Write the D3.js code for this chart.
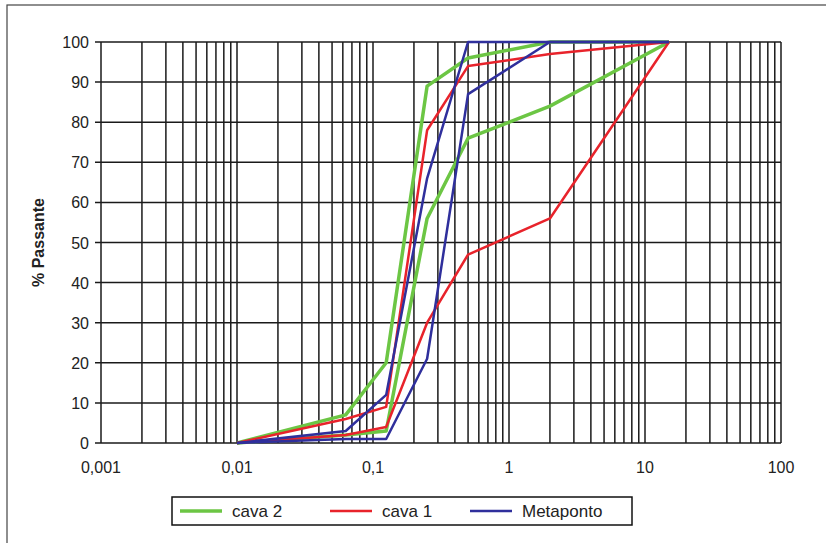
<!DOCTYPE html>
<html>
<head>
<meta charset="utf-8">
<script src="https://cdn.jsdelivr.net/npm/d3@7"></script>
<style>
  body { margin: 0; background: #fff; }
  svg { display: block; font-family: "Liberation Sans", Arial, sans-serif; }
  .grid line { stroke: #1a1a1a; stroke-width: 1.5; }
  .tick-label { font-size: 16px; fill: #222; }
</style>
</head>
<body>
<div id="chart"></div>
<script>
// sieve openings (mm) and % passing, upper / lower envelope per material
const sieve = [0.01, 0.063, 0.125, 0.25, 0.5, 2, 15];
const cava2Upper = [0, 7, 20, 89, 96, 100, 100];
const cava2Lower = [0, 2, 3, 56, 76, 84, 100];
const cava1Upper = [0, 6, 9, 78, 94, 97, 100];
const cava1Lower = [0, 2, 4, 30, 47, 56, 100];
const metaUpper = [0, 3, 12, 66, 100, 100, 100];
const metaLower = [0, 1, 1, 21, 87, 100, 100];

const xTicks = [0.001, 0.01, 0.1, 1, 10, 100];
const xTickLabels = ["0,001", "0,01", "0,1", "1", "10", "100"];
const yTicks = [0, 10, 20, 30, 40, 50, 60, 70, 80, 90, 100];

const seriesNames = ["cava 2", "cava 1", "Metaponto"];
const seriesColors = ["#6cc644", "#e8232b", "#2f2f9c"];
const seriesWidths = [3.5, 2.5, 2.5];

var width = 826, height = 543;
var margin = { top: 42, right: 45, bottom: 100, left: 101 };

var svg = d3.select("#chart").append("svg")
  .attr("width", width)
  .attr("height", height);

// outer frame
svg.append("rect")
  .attr("x", 7).attr("y", 5)
  .attr("width", width).attr("height", height)
  .attr("fill", "none")
  .attr("stroke", "#444")
  .attr("stroke-width", 1.2);

var x = d3.scaleLog().domain([0.001, 100]).range([margin.left, width - margin.right]);
var y = d3.scaleLinear().domain([0, 100]).range([height - margin.bottom, margin.top]);

// minor + major vertical grid on log scale
var vLines = [];
for (var e = -3; e < 2; e++) {
  for (var m = 1; m <= 9; m++) vLines.push(m * Math.pow(10, e));
}
vLines.push(100);

var grid = svg.append("g").attr("class", "grid");
grid.selectAll(".v").data(vLines).enter().append("line")
  .attr("x1", d => x(d)).attr("x2", d => x(d))
  .attr("y1", y(0)).attr("y2", y(100));
grid.selectAll(".h").data(yTicks).enter().append("line")
  .attr("x1", x(0.001) - 6).attr("x2", x(100))
  .attr("y1", d => y(d)).attr("y2", d => y(d));

// y tick labels
svg.selectAll(".ylab").data(yTicks).enter().append("text")
  .attr("class", "tick-label")
  .attr("x", x(0.001) - 12)
  .attr("y", d => y(d) + 6)
  .attr("text-anchor", "end")
  .text(d => d);

// x tick labels
svg.selectAll(".xlab").data(xTicks).enter().append("text")
  .attr("class", "tick-label")
  .attr("x", d => x(d))
  .attr("y", y(0) + 30)
  .attr("text-anchor", "middle")
  .text((d, i) => xTickLabels[i]);

// y axis title
svg.append("text")
  .attr("transform", "translate(44," + ((y(0) + y(100)) / 2) + ")rotate(-90)")
  .attr("text-anchor", "middle")
  .style("font-size", "16px")
  .style("font-weight", "bold")
  .attr("fill", "#222")
  .text("% Passante");

var line = d3.line()
  .x(d => x(d[0]))
  .y(d => y(d[1]));

const envelopes = [
  [cava2Upper, cava2Lower],
  [cava1Upper, cava1Lower],
  [metaUpper, metaLower]
];

envelopes.forEach(function(pair, i) {
  pair.forEach(function(vals) {
    svg.append("path")
      .attr("d", line(sieve.map((s, k) => [s, vals[k]])))
      .attr("fill", "none")
      .attr("stroke", seriesColors[i])
      .attr("stroke-width", seriesWidths[i])
      .attr("stroke-linejoin", "round");
  });
});

// legend
var lg = svg.append("g").attr("transform", "translate(172,497)");
lg.append("rect")
  .attr("width", 460).attr("height", 28)
  .attr("fill", "#fff")
  .attr("stroke", "#111")
  .attr("stroke-width", 1.5);
var legendX = [8, 158, 298];
seriesNames.forEach(function(name, i) {
  var g = lg.append("g").attr("transform", "translate(" + legendX[i] + ",14)");
  g.append("line")
    .attr("x1", 0).attr("x2", 42)
    .attr("stroke", seriesColors[i])
    .attr("stroke-width", seriesWidths[i]);
  g.append("text")
    .attr("x", 52).attr("y", 6)
    .style("font-size", "17px")
    .attr("fill", "#222")
    .text(name);
});
</script>
</body>
</html>
